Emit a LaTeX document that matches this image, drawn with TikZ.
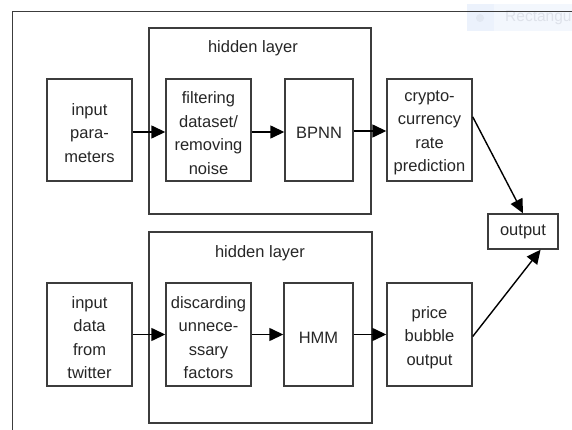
\documentclass[tikz,border=0pt]{standalone}
\usepackage{fontspec}
\setmainfont{Liberation Sans}
\usetikzlibrary{arrows.meta}
\definecolor{edge}{HTML}{3C3C3C}
\definecolor{txt}{HTML}{262626}
\tikzset{
  x=1pt, y=-1pt,
  box/.style={draw=edge, line width=1.4pt, rectangle, inner sep=0pt},
  boxtext/.style={label={[text=txt, align=center, inner sep=0pt, yshift=-3pt,
    font=\fontsize{16.5}{23.5}\selectfont]center:#1}},
  group/.style={draw=edge, line width=1.4pt, rectangle, inner sep=0pt},
  conn/.style={draw=black, line width=1.4pt, -{Triangle[length=14pt,width=13pt]}},
  lbl/.style={text=txt, font=\fontsize{16.5}{20}\selectfont, inner sep=0pt}
}
\begin{document}
\begin{tikzpicture}
\useasboundingbox (0,0) rectangle (572,430);
% faint tooltip artifact
\fill[fill={rgb,255:red,243;green,247;blue,253}] (467,4) rectangle (572,31);
\fill[fill={rgb,255:red,236;green,242;blue,252}] (467,4) rectangle (494,31);
\fill[fill={rgb,255:red,226;green,232;blue,242}] (480,18) circle (4);
\node[anchor=west, inner sep=0pt, text={rgb,255:red,222;green,226;blue,234},
  font=\fontsize{15.5}{20}\selectfont] (tip) at (505,18) {Rectangu};
% outer frame (open to right and bottom)
\draw[edge, line width=1.4pt] (12.5,430) -- (12.5,11.5) -- (572,11.5);
% hidden layer groups
\node[group, minimum width=222pt, minimum height=186pt] (hid1) at (260,121) {};
\node[group, minimum width=223pt, minimum height=191pt] (hid2) at (260.5,327.5) {};
\node[lbl] (hl1) at (253,48) {hidden layer};
\node[lbl] (hl2) at (260,253) {hidden layer};
% top row
\node[box, minimum width=85pt, minimum height=102pt, boxtext={input\\para-\\meters}] (inp1) at (89.5,130) {};
\node[box, minimum width=85pt, minimum height=102pt, boxtext={filtering\\dataset/\\removing\\noise}] (filt) at (208.5,130) {};
\node[box, minimum width=68pt, minimum height=102pt, boxtext={BPNN}] (bpnn) at (319,130) {};
\node[box, minimum width=85pt, minimum height=102pt, boxtext={crypto-\\currency\\rate\\prediction}] (cryp) at (429.5,130) {};
% output
\node[box, minimum width=70pt, minimum height=35pt, text=txt, font=\fontsize{16.5}{20}\selectfont] (out) at (523,231.5) {output};
% bottom row
\node[box, minimum width=85pt, minimum height=103pt, boxtext={input\\data\\from\\twitter}] (inp2) at (89.5,334.5) {};
\node[box, minimum width=85pt, minimum height=103pt, boxtext={discarding\\unnece-\\ssary\\factors}] (disc) at (208.5,334.5) {};
\node[box, minimum width=69pt, minimum height=103pt, boxtext={HMM}] (hmm) at (318.5,334.5) {};
\node[box, minimum width=85pt, minimum height=103pt, boxtext={price\\bubble\\output}] (price) at (429.5,334.5) {};
% connectors
\draw[conn] ([yshift=-2pt]inp1.east) -- ([yshift=-2pt]filt.west);
\draw[conn] ([yshift=-2pt]filt.east) -- ([yshift=-2pt]bpnn.west);
\draw[conn] ([yshift=-1pt]bpnn.east) -- ([yshift=-1pt]cryp.west);
\draw[conn] (inp2.east) -- (disc.west);
\draw[conn] (disc.east) -- (hmm.west);
\draw[conn] (hmm.east) -- (price.west);
\draw[conn] (cryp.17) -- (out.north);
\draw[conn] ([yshift=-2pt]price.east) -- (out.-46);
\end{tikzpicture}
\end{document}
